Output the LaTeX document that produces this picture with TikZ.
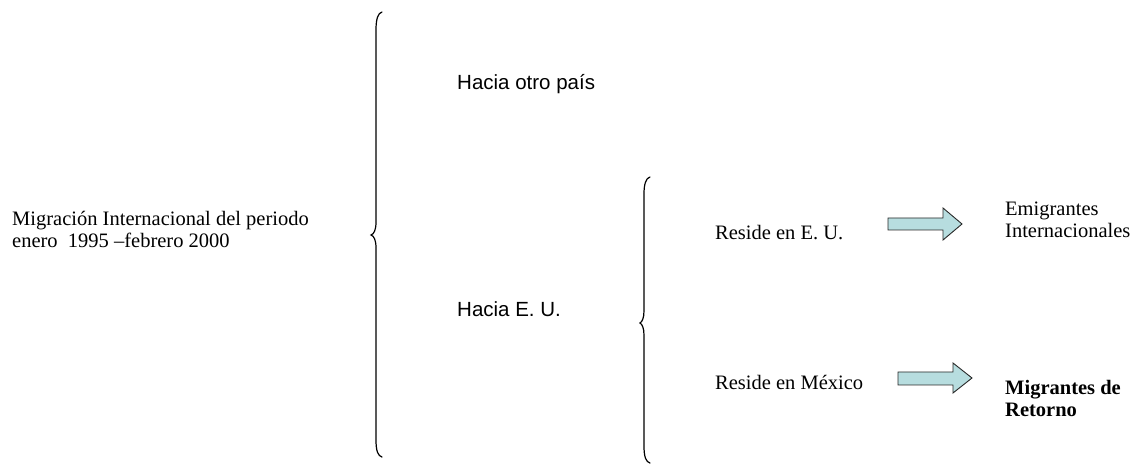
\documentclass[tikz,border=0pt]{standalone}
\usepackage{fontspec}
\setmainfont{Liberation Serif}
\newfontfamily\arialfont{Liberation Sans}
\definecolor{arrowfill}{RGB}{183,221,223}
\definecolor{arrowline}{RGB}{40,40,40}
\begin{document}
\begin{tikzpicture}[x=1bp,y=-1bp,
  serif/.style={inner sep=0pt,anchor=base west,font=\fontsize{20.5bp}{22bp}\selectfont,align=left},
  sans/.style={inner sep=0pt,anchor=base west,font=\arialfont\fontsize{20.5bp}{22bp}\selectfont},
  brace/.style={line width=1.2bp,black,line cap=round},
  blockarrow/.style={draw=arrowline,fill=arrowfill,line width=0.9bp,line join=miter}]
\useasboundingbox (0,0) rectangle (1139,464);
% multi-line nodes: base anchor sits on the last line
\node[serif] (mig) at (12,248) {Migración Internacional del periodo\\enero\ \ 1995 –febrero 2000};
\node[sans] (otro) at (457,90) {Hacia otro país};
\node[sans] (eu) at (457,317) {Hacia E. U.};
\node[serif] (reu) at (715,240) {Reside en E. U.};
\node[serif] (rmx) at (715,390) {Reside en México};
\node[serif] (emi) at (1005,238) {Emigrantes\\Internacionales};
\node[serif,font=\bfseries\fontsize{20.5bp}{22bp}\selectfont] (ret) at (1005,417) {Migrantes de\\Retorno};
% braces
\draw[brace] (382,12) .. controls (378,13) and (376,19) .. (376,30) -- (376,222)
  .. controls (376,230) and (374,234) .. (371,235)
  .. controls (374,236) and (376,240) .. (376,248) -- (376,440)
  .. controls (376,451) and (378,456) .. (382,457);
\draw[brace] (650,177) .. controls (646,178) and (644,184) .. (644,194) -- (644,311)
  .. controls (644,318) and (642,322) .. (640,323)
  .. controls (642,324) and (644,328) .. (644,335) -- (644,446)
  .. controls (644,457) and (646,462) .. (650,463);
% block arrows
\draw[blockarrow] (888,218) -- (943,218) -- (943,208) -- (962,224) -- (943,240) -- (943,230) -- (888,230) -- cycle;
\draw[blockarrow] (898,372) -- (953,372) -- (953,363) -- (972,378) -- (953,393) -- (953,385) -- (898,385) -- cycle;
\end{tikzpicture}
\end{document}
